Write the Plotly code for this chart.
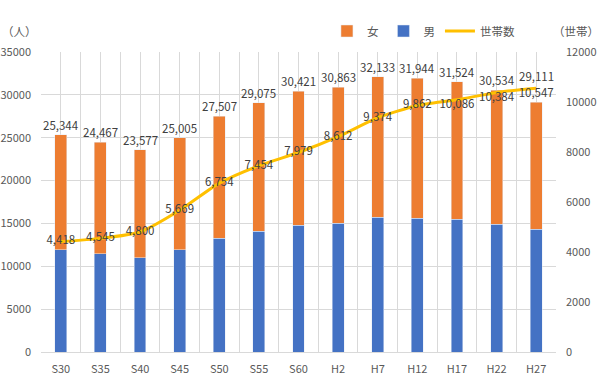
import plotly.graph_objects as go

categories = ["S30", "S35", "S40", "S45", "S50", "S55", "S60", "H2", "H7", "H12", "H17", "H22", "H27"]
totals = [25344, 24467, 23577, 25005, 27507, 29075, 30421, 30863, 32133, 31944, 31524, 30534, 29111]
male = [11950, 11450, 11000, 11950, 13300, 14110, 14800, 15035, 15730, 15610, 15500, 14920, 14340]
female = [t - m for t, m in zip(totals, male)]
households = [4418, 4545, 4800, 5669, 6754, 7454, 7979, 8612, 9374, 9862, 10086, 10384, 10547]
left_ticks = [0, 5000, 10000, 15000, 20000, 25000, 30000, 35000]
right_ticks = [0, 2000, 4000, 6000, 8000, 10000, 12000]

FONT = "Noto Sans CJK JP"
LBL = "#404040"
TICK = "#595959"
GRID = "#D9D9D9"

fig = go.Figure()
fig.add_trace(go.Bar(x=categories, y=male, name="男", marker_color="#4472C4",
                     width=0.3, legendrank=2, hoverinfo="skip"))
fig.add_trace(go.Bar(x=categories, y=female, name="女", marker_color="#ED7D31",
                     width=0.3, legendrank=1, hoverinfo="skip"))

hh_pos = ["middle center"] * 10 + ["bottom center"] * 3
fig.add_trace(go.Scatter(x=categories, y=households, name="世帯数", mode="lines+text",
                         line=dict(color="#FFC000", width=3, shape="spline", smoothing=0.6),
                         text=[f"{v:,}" for v in households], textposition=hh_pos,
                         textfont=dict(family=FONT, size=11.5, color=LBL),
                         xaxis="x2", yaxis="y2", legendrank=3, hoverinfo="skip"))

# total labels above stacks
for i, (c, t) in enumerate(zip(categories, totals)):
    fig.add_annotation(x=c, y=t, text=f"{t:,}", showarrow=False, yshift=26 if i == len(categories) - 1 else 10,
                       font=dict(family=FONT, size=11.5, color=LBL), xref="x", yref="y")

fig.add_annotation(text="（人）", x=-0.041, y=1.07, xref="paper", yref="paper", xanchor="center", yanchor="middle",
                   showarrow=False, font=dict(family=FONT, size=11.5, color=TICK))
fig.add_annotation(text="（世帯）", x=1.039, y=1.07, xref="paper", yref="paper", xanchor="center", yanchor="middle",
                   showarrow=False, font=dict(family=FONT, size=11.5, color=TICK))

fig.update_layout(
    width=603, height=378,
    margin=dict(l=41, r=47, t=52, b=26, autoexpand=False),
    barmode="stack",
    plot_bgcolor="white", paper_bgcolor="white",
    font=dict(family=FONT, size=10, color=TICK),
    showlegend=True,
    legend=dict(orientation="h", x=0.93, xanchor="right", y=1.07, yanchor="middle", yref="paper",
                font=dict(family=FONT, size=11.5, color=TICK),
                bgcolor="rgba(0,0,0,0)", traceorder="normal"),
    xaxis=dict(categoryorder="array", categoryarray=categories, tickson="boundaries",
               showgrid=True, gridcolor=GRID, gridwidth=1, showline=True, linecolor=GRID,
               ticks="", tickfont=dict(family=FONT, size=11, color=TICK), automargin=False,
               ticklabelstandoff=7, range=[-0.5, len(categories) - 0.5]),
    xaxis2=dict(categoryorder="array", categoryarray=categories, overlaying="x", matches="x",
                showgrid=True, gridcolor=GRID, gridwidth=1, showticklabels=False, ticks="",
                automargin=False, range=[-0.5, len(categories) - 0.5]),
    yaxis=dict(range=[0, 35000], tickvals=left_ticks, ticktext=[str(v) for v in left_ticks],
               showgrid=True, gridcolor=GRID, zeroline=False, ticks="", automargin=False,
               ticklabelstandoff=9, tickfont=dict(family=FONT, size=11, color=TICK)),
    yaxis2=dict(range=[0, 12000], tickvals=right_ticks, ticktext=[str(v) for v in right_ticks],
                overlaying="y", side="right", anchor="x2", showgrid=False, zeroline=False, ticks="",
                automargin=False, ticklabelstandoff=9, tickfont=dict(family=FONT, size=11, color=TICK)),
)

fig.write_html("out.html", config={"displayModeBar": False},
               post_script="document.body.style.margin='0';document.body.style.padding='0';")
